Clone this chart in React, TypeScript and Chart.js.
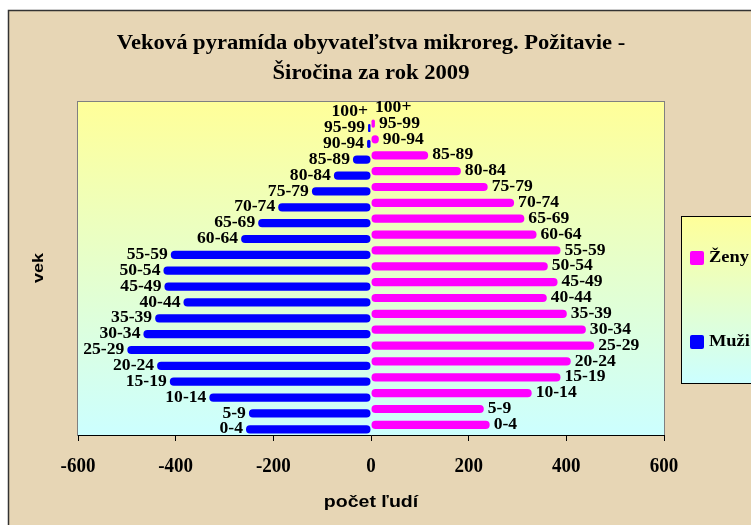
import React, { useEffect, useRef } from "react";
import { Chart, registerables } from "chart.js";

Chart.register(...registerables);

const AGE_GROUPS = ["0-4","5-9","10-14","15-19","20-24","25-29","30-34","35-39","40-44","45-49","50-54","55-59","60-64","65-69","70-74","75-79","80-84","85-89","90-94","95-99","100+"];
const ZENY = [243, 231, 329, 388, 409, 457, 440, 401, 360, 382, 362, 388, 339, 314, 293, 239, 184, 117, 16, 8, 0];
const MUZI = [-256, -250, -331, -412, -438, -499, -466, -442, -384, -423, -425, -410, -266, -231, -190, -121, -76, -37, -8, -6, 0];
const X_TICKS = [-600, -400, -200, 0, 200, 400, 600];
const TITLE_LINES = ["Veková pyramída obyvateľstva mikroreg. Požitavie -", "Širočina za rok 2009"];
const X_TITLE = "počet ľudí";
const Y_TITLE = "vek";
const SERIES_NAMES = ["Ženy", "Muži"];
const SERIES_COLORS = ["#FF00FF", "#0000FF"];

const SERIF = '"Liberation Serif", "Times New Roman", serif';
const SANS = '"Liberation Sans", Arial, sans-serif';

function txt(ctx: CanvasRenderingContext2D, s: string, x: number, y: number, font: string, align: CanvasTextAlign, sx = 1) {
  ctx.save();
  ctx.font = font;
  ctx.fillStyle = "#000";
  ctx.textBaseline = "middle";
  ctx.textAlign = align;
  ctx.translate(x, y);
  ctx.scale(sx, 1);
  ctx.fillText(s, 0, 0);
  ctx.restore();
}

const decor = {
  id: "decor",
  beforeDraw(chart: any) {
    const ctx = chart.ctx as CanvasRenderingContext2D;
    const { left, right, top, bottom } = chart.chartArea;
    ctx.save();
    ctx.fillStyle = "#ffffff";
    ctx.fillRect(0, 0, chart.width, chart.height);
    ctx.fillStyle = "#E7D6B5";
    ctx.fillRect(8, 10, chart.width, chart.height);
    ctx.strokeStyle = "#333";
    ctx.lineWidth = 1.5;
    ctx.beginPath();
    ctx.moveTo(8.5, chart.height);
    ctx.lineTo(8.5, 10.5);
    ctx.lineTo(chart.width, 10.5);
    ctx.stroke();
    const g = ctx.createLinearGradient(0, top, 0, bottom);
    g.addColorStop(0, "#FFFF99");
    g.addColorStop(1, "#CCFFFF");
    ctx.fillStyle = g;
    ctx.fillRect(left, top, right - left, bottom - top);
    ctx.strokeStyle = "#808080";
    ctx.lineWidth = 1;
    ctx.strokeRect(left - 0.5, top - 0.5, right - left + 1, bottom - top + 1);
    ctx.restore();
  },
  afterDraw(chart: any) {
    const ctx = chart.ctx as CanvasRenderingContext2D;
    const xs = chart.scales.x;
    const bottom = chart.chartArea.bottom;
    // title
    txt(ctx, TITLE_LINES[0], 371, 44, `bold 20px ${SERIF}`, "center", 1.13);
    txt(ctx, TITLE_LINES[1], 371, 74, `bold 20px ${SERIF}`, "center", 1.13);
    // x tick labels
    X_TICKS.forEach((v) => {
      txt(ctx, String(v), xs.getPixelForValue(v), bottom + 32, `bold 20px ${SERIF}`, "center", 0.95);
    });
    txt(ctx, X_TITLE, xs.getPixelForValue(0), 502, `bold 17px ${SANS}`, "center", 1.15);
    // y title
    ctx.save();
    ctx.translate(39, 268);
    ctx.rotate(-Math.PI / 2);
    txt(ctx, Y_TITLE, 0, 0, `bold 15px ${SANS}`, "center", 1.2);
    ctx.restore();
    // data labels
    chart.data.datasets.forEach((ds: any, di: number) => {
      const meta = chart.getDatasetMeta(di);
      meta.data.forEach((el: any, i: number) => {
        const label = AGE_GROUPS[i];
        if (ds.data[i] < 0 || di === 1) {
          txt(ctx, label, el.x - 3, el.y, `bold 16px ${SERIF}`, "right", 1.1);
        } else {
          txt(ctx, label, el.x + 4, el.y, `bold 16px ${SERIF}`, "left", 1.1);
        }
      });
    });
    // legend
    const lx = 681, ly = 216, lw = 100, lh = 167;
    ctx.save();
    const g = ctx.createLinearGradient(0, ly, 0, ly + lh);
    g.addColorStop(0, "#FFFF99");
    g.addColorStop(1, "#CCFFFF");
    ctx.fillStyle = g;
    ctx.fillRect(lx, ly, lw, lh);
    ctx.strokeStyle = "#000";
    ctx.lineWidth = 1;
    ctx.strokeRect(lx + 0.5, ly + 0.5, lw, lh);
    const items = [
      { y: 258, name: SERIES_NAMES[0], color: SERIES_COLORS[0] },
      { y: 342, name: SERIES_NAMES[1], color: SERIES_COLORS[1] },
    ];
    items.forEach((it) => {
      ctx.fillStyle = it.color;
      ctx.beginPath();
      (ctx as any).roundRect(690, it.y - 7, 14, 14, 2);
      ctx.fill();
      txt(ctx, it.name, 709, it.y, `bold 16px ${SERIF}`, "left", 1.15);
    });
    ctx.restore();
  },
};

export default function App() {
  const ref = useRef<HTMLCanvasElement | null>(null);
  useEffect(() => {
    if (!ref.current) return;
    const chart = new Chart(ref.current, {
      type: "bar",
      data: {
        labels: AGE_GROUPS,
        datasets: [
          { label: SERIES_NAMES[0], data: ZENY, backgroundColor: SERIES_COLORS[0], borderRadius: 4, borderSkipped: false },
          { label: SERIES_NAMES[1], data: MUZI, backgroundColor: SERIES_COLORS[1], borderRadius: 4, borderSkipped: false },
        ],
      },
      options: {
        animation: false,
        responsive: false,
        indexAxis: "y",
        layout: { padding: { left: 78, right: 87, top: 102, bottom: 0 } },
        datasets: { bar: { categoryPercentage: 0.56, barPercentage: 1.85 } },
        plugins: { legend: { display: false }, title: { display: false }, tooltip: { enabled: false } },
        scales: {
          x: {
            type: "linear",
            min: -600,
            max: 600,
            ticks: { stepSize: 200, display: false },
            grid: { drawOnChartArea: false, drawTicks: true, tickLength: 6, color: "#000" },
            border: { display: true, color: "#000", width: 1 },
            afterFit: (s: any) => { s.height = 90; },
          },
          y: {
            type: "category",
            reverse: true,
            display: false,
          },
        },
      },
      plugins: [decor],
    } as any);
    return () => chart.destroy();
  }, []);
  return (
    <div style={{ position: "absolute", left: 0, top: 0, width: 751, height: 525 }}>
      <canvas ref={ref} width={751} height={525} style={{ display: "block" }} />
    </div>
  );
}
